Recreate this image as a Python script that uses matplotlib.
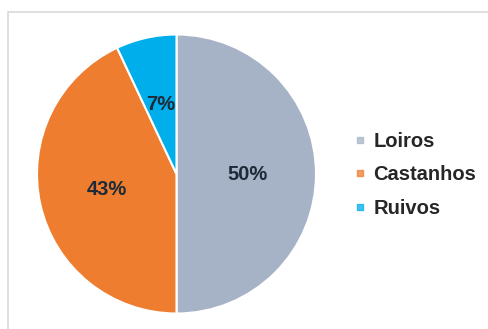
import matplotlib
matplotlib.use('Agg')
import matplotlib.pyplot as plt
from matplotlib.lines import Line2D
from matplotlib.patches import Rectangle

# Dados
categorias = ['Loiros', 'Castanhos', 'Ruivos']
valores = [50, 43, 7]
cores = ['#A6B3C7', '#EE7D2F', '#00AEEC']

plt.rcParams['font.family'] = ['Liberation Sans', 'DejaVu Sans']

W, H = 489, 329
fig = plt.figure(figsize=(W / 100, H / 100), dpi=100)

# moldura cinzenta da área do gráfico
fig.patches.append(Rectangle((8 / W, -0.2), 1.5, (H - 12) / H + 0.2,
                             transform=fig.transFigure, fill=False,
                             edgecolor='#D9D9D9', linewidth=1.2))

cx, cy, r = 176.5, 174, 139.5
ax = fig.add_axes([(cx - r) / W, (H - cy - r) / H, 2 * r / W, 2 * r / H])

wedges, _, rotulos = ax.pie(valores, colors=cores, startangle=90, counterclock=False,
                            radius=1, autopct='%1.0f%%', pctdistance=0.51,
                            wedgeprops=dict(edgecolor='white', linewidth=1.5),
                            textprops=dict(fontsize=14.5, fontweight='bold',
                                           color='#1E2A38'))

ax.set_xlim(-1, 1)
ax.set_ylim(-1, 1)
ax.set_aspect('equal')
ax.axis('off')

# legenda
handles = [Line2D([], [], marker='s', linestyle='none', markersize=5,
                  markerfacecolor=c, markeredgecolor=c, alpha=0.75) for c in cores]
leg = fig.legend(handles, categorias, loc='center left',
                 bbox_to_anchor=(336 / W, 1 - 175 / H), frameon=False,
                 handlelength=0.6, handletextpad=0.35, labelspacing=0.7,
                 prop=dict(size=14.5, weight='bold'))
for t in leg.get_texts():
    t.set_color('#262626')

fig.savefig('out.png', dpi=100)
